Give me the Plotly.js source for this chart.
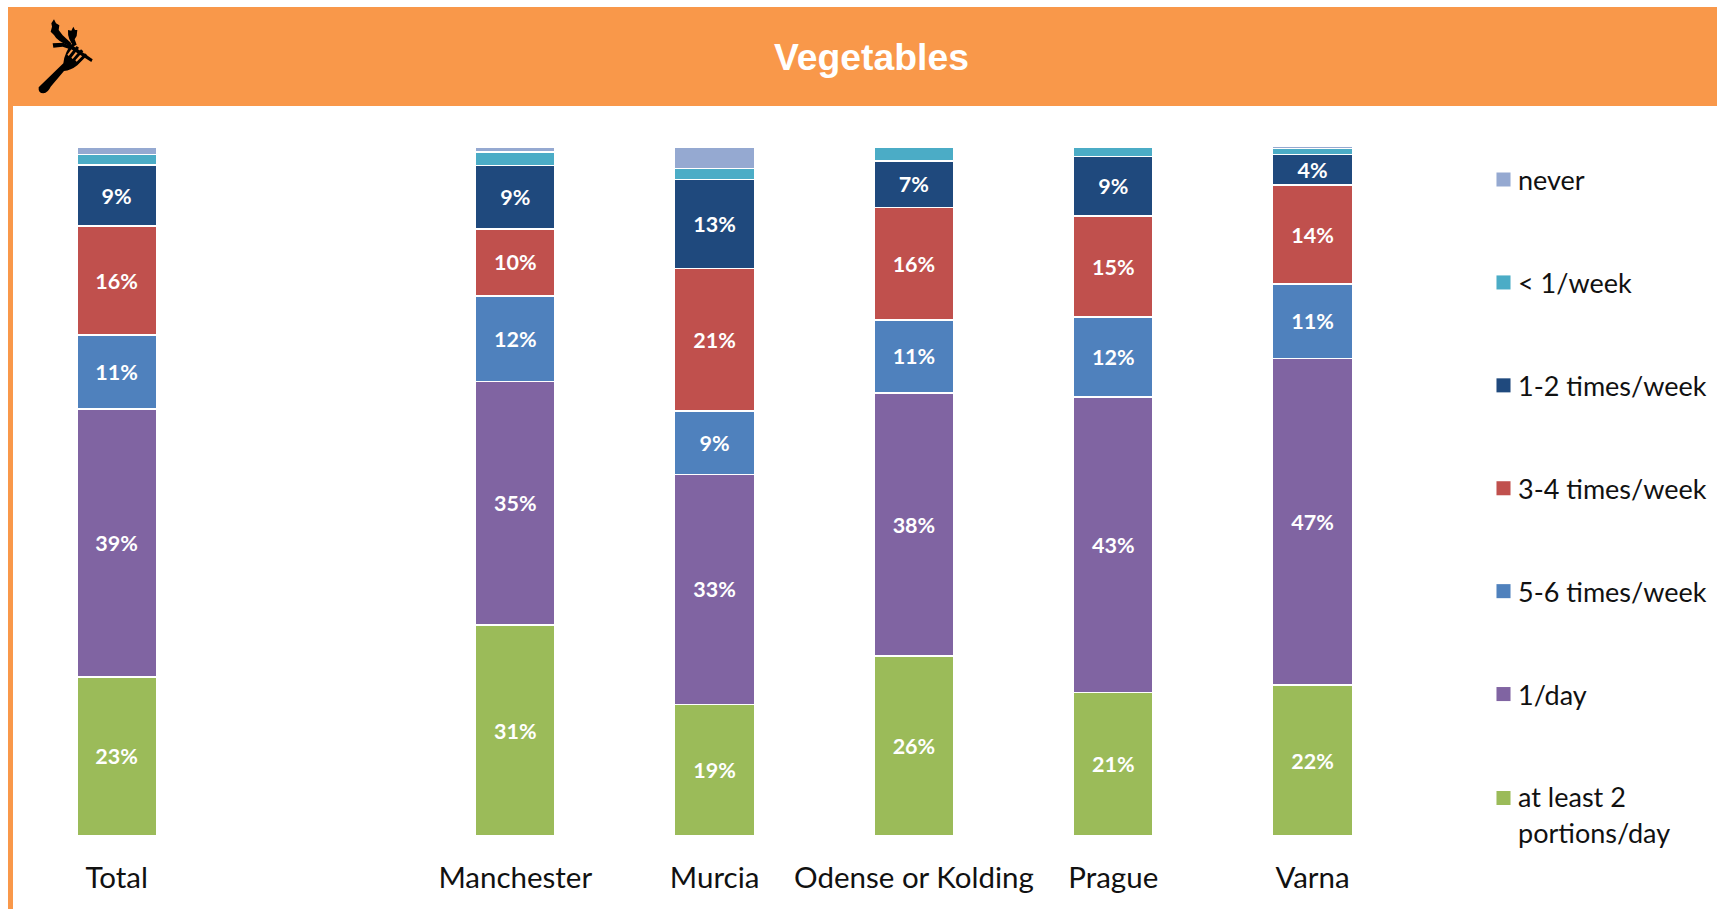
<!DOCTYPE html>
<html><head><meta charset="utf-8">
<script src="https://cdn.plot.ly/plotly-3.0.1.min.js"></script>
<style>html,body{margin:0;padding:0;background:#fff;overflow:hidden}#c{width:1717px;height:909px}</style>
</head><body><div id="c"></div>
<script>
const categories = ["Total"," ","Manchester","Murcia","Odense or Kolding","Prague","Varna"];
const atLeast2 = [23.1,null,30.6,19.1,26.1,20.8,21.9];
const oneDay   = [38.9,null,35.4,33.4,38.2,42.9,47.4];
const fiveSix  = [10.7,null,12.4,9.2,10.6,11.6,10.8];
const threeFour= [15.8,null,9.7,20.7,16.3,14.7,14.4];
const oneTwo   = [8.9,null,9.2,12.9,6.8,8.6,4.4];
const lessWeek = [1.5,null,2.0,1.6,2.0,1.4,0.9];
const never    = [1.1,null,0.7,3.1,0,0,0.3];
const names = ["at least 2<br>portions/day","1/day","5-6 times/week","3-4 times/week","1-2 times/week","< 1/week","never"];
const colors = ["#9BBB59","#8064A2","#4F81BD","#C0504D","#1F497D","#4BACC6","#95A9D1"];
const series = [atLeast2,oneDay,fiveSix,threeFour,oneTwo,lessWeek,never];
const W=1717,H=909;
const px = s => s.replace(/(-?[\d.]+),(-?[\d.]+)/g,(m,x,y)=>((30+x/3)/W).toFixed(5)+','+(1-(10+y/3)/H).toFixed(5));
const icon = [
 "M26,232 Q24,250 40,250 Q54,248 62,230 L102,183 Q122,182 142,166 L172,136 L165,130 L140,155 L136,151 L160,124 L153,118 L128,147 L124,143 L147,113 L140,108 L116,138 L112,134 L134,105 L127,100 Q104,125 100,160 Z",
 "M118,100 L188,148 L184,156 L112,110 Z",
 "M68,100 L100,98 L125,110 L120,118 L98,110 L70,113 Z",
 "M118,108 Q80,92 72,75 L62,65 L66,50 L64,40 L72,28 L78,40 L88,46 L86,60 L98,76 L124,100 Z",
 "M132,108 Q112,88 114,60 L124,62 L130,50 L135,60 L142,60 L140,78 L134,88 L140,104 Z"
];
const traces = series.map((v,i)=>({
  type:'bar',x:categories,y:v,name:names[i],legendgroup:'g'+i,legendrank:100-i,
  marker:{color:colors[i],line:{color:'#fff',width:1.5}},
  text:i<5?v.map(a=>a==null?'':a.toFixed(0)+'%'):undefined,
  textposition:i<5?'inside':'none',insidetextanchor:'middle',textangle:0,constraintext:'none',
  insidetextfont:{family:'Lato, Carlito, sans-serif',size:21.5,color:'#fff',weight:700},
  hoverinfo:'x+y+name'
}));
const layout = {
  width:W,height:H,margin:{l:0,r:0,t:0,b:0},paper_bgcolor:'#fff',plot_bgcolor:'#fff',
  barmode:'stack',bargap:0.6,showlegend:true,
  xaxis:{domain:[17/W,1412.2/W],type:'category',categoryorder:'array',categoryarray:categories,
    showgrid:false,zeroline:false,showline:false,ticks:'outside',ticklen:16,tickcolor:'rgba(0,0,0,0)',
    tickfont:{family:'Lato, Carlito, sans-serif',size:29.5,color:'#111'}},
  yaxis:{domain:[1-836/H,1-147/H],range:[0,100],visible:false},
  legend:{x:1478/W,xanchor:'left',y:1-155.5/H,yanchor:'top',traceorder:'grouped',tracegroupgap:64.8,
    font:{family:'Lato, Carlito, sans-serif',size:27,color:'#111'},bgcolor:'rgba(0,0,0,0)'},
  shapes:[
    {type:'rect',xref:'paper',yref:'paper',x0:8/W,x1:1,y0:1-106/H,y1:1-7/H,fillcolor:'#F9984A',line:{width:0},layer:'below'},
    {type:'rect',xref:'paper',yref:'paper',x0:8/W,x1:13/W,y0:0,y1:1-95/H,fillcolor:'#F9984A',line:{width:0},layer:'below'},
    ...icon.map(p=>({type:'path',xref:'paper',yref:'paper',path:px(p),fillcolor:'#000',line:{width:0}}))
  ],
  annotations:[{xref:'paper',yref:'paper',x:871/W,y:1-57/H,xanchor:'center',yanchor:'middle',showarrow:false,
    text:'<b>Vegetables</b>',font:{family:'Liberation Sans, Arial, sans-serif',size:37.3,color:'#fff'}}]
};
Plotly.newPlot('c',traces,layout,{displayModeBar:false,staticPlot:true}).then(()=>{
  document.querySelectorAll('#c .legend .traces').forEach(tr=>{
    const two = tr.textContent.indexOf('portions')>=0;
    tr.querySelectorAll('.legendpoints path').forEach(p=>{
      p.style.strokeWidth='0';
      p.setAttribute('transform','translate(25.5,'+(two?-16.5:0)+') scale(1.17)');
    });
  });
});
</script></body></html>
